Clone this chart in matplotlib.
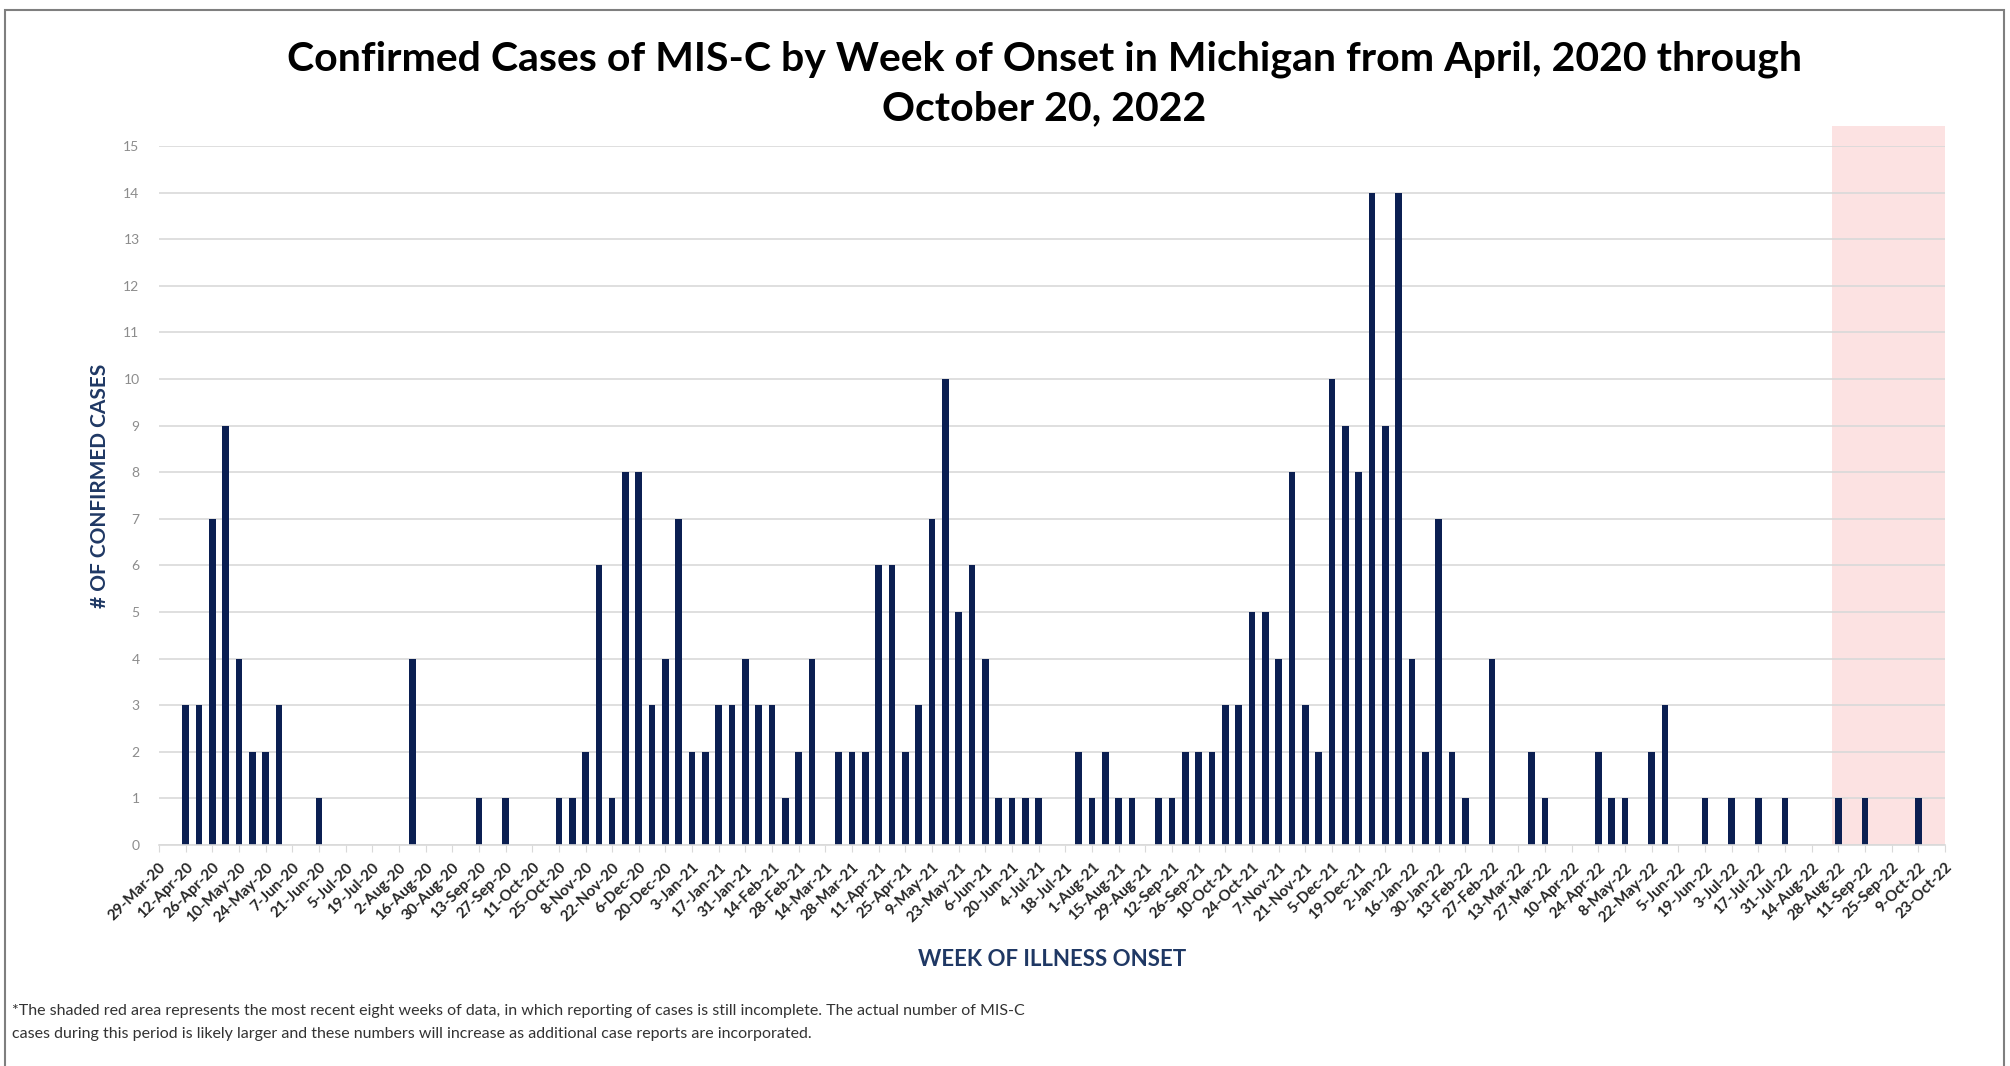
import numpy as np
import pandas as pd
import matplotlib
matplotlib.use("Agg")
import matplotlib.pyplot as plt
from matplotlib.patches import Rectangle

plt.rcParams['font.family'] = ['Lato', 'DejaVu Sans']

# weekly categories, 29-Mar-20 through 23-Oct-22
weeks = pd.date_range("2020-03-29", "2022-10-23", freq="7D")
week_labels = [f"{d.day}-{d.strftime('%b-%y')}" for d in weeks]

cases = [0, 0, 3, 3, 7, 9, 4, 2, 2, 3,
         0, 0, 1, 0, 0, 0, 0, 0, 0, 4,
         0, 0, 0, 0, 1, 0, 1, 0, 0, 0,
         1, 1, 2, 6, 1, 8, 8, 3, 4, 7,
         2, 2, 3, 3, 4, 3, 3, 1, 2, 4,
         0, 2, 2, 2, 6, 6, 2, 3, 7, 10,
         5, 6, 4, 1, 1, 1, 1, 0, 0, 2,
         1, 2, 1, 1, 0, 1, 1, 2, 2, 2,
         3, 3, 5, 5, 4, 8, 3, 2, 10, 9,
         8, 14, 9, 14, 4, 2, 7, 2, 1, 0,
         4, 0, 0, 2, 1, 0, 0, 0, 2, 1,
         1, 0, 2, 3, 0, 0, 1, 0, 1, 0,
         1, 0, 1, 0, 0, 0, 1, 0, 1, 0,
         0, 0, 1, 0, 0]

incomplete_weeks = 8  # shaded, reporting still incomplete

title = ("Confirmed Cases of MIS-C by Week of Onset in Michigan from April, 2020 through\n"
         "October 20, 2022")
note1 = ("*The shaded red area represents the most recent eight weeks of data, in which reporting "
         "of cases is still incomplete. The actual number of MIS-C")
note2 = ("cases during this period is likely larger and these numbers will increase as additional "
         "case reports are incorporated.")

navy = '#0b1f52'
label_navy = '#1f3864'
grid_c = '#d9d9d9'

W, H = 2010, 1066
fig = plt.figure(figsize=(W / 100, H / 100), dpi=100)
ax = fig.add_axes([159 / W, 1 - 845 / H, (1945 - 159) / W, (845 - 146) / H])

x = np.arange(len(cases))
ax.bar(x, cases, width=0.5, color=navy, zorder=2)

n = len(cases)
pink = Rectangle((n - 1 - incomplete_weeks - 0.5, 0), incomplete_weeks + 0.5, 15.43,
                 facecolor='#fce2e2', edgecolor='none', zorder=0.2, clip_on=False)
ax.add_patch(pink)

ax.set_xlim(0, n - 1)
ax.set_ylim(0, 15)
ax.set_yticks(range(0, 16))
ax.set_axisbelow(True)
ax.yaxis.grid(True, color=grid_c, linewidth=1.2)
ax.tick_params(axis='y', length=0, labelsize=10, labelcolor='#8c8c8c', pad=14)

ax.set_xticks(x[::2])
ax.set_xticklabels(week_labels[::2], rotation=45, ha='right', va='top',
                   rotation_mode='anchor', fontsize=11, fontweight='bold', color='#262626')
ax.tick_params(axis='x', length=5, color=grid_c, pad=6)

for s in ['top', 'right', 'left']:
    ax.spines[s].set_visible(False)
ax.spines['bottom'].set_color(grid_c)
ax.spines['bottom'].set_linewidth(1.2)

fig.text(1044 / W, 1 - 84 / H, title, ha='center', va='center', fontsize=29.5,
         fontweight='bold', color='black', linespacing=1.42)
fig.text(100 / W, 1 - 486 / H, '# OF CONFIRMED CASES', rotation=90, ha='center', va='center',
         fontsize=15, fontweight='bold', color=label_navy)
fig.text(1052 / W, 1 - 959 / H, 'WEEK OF ILLNESS ONSET', ha='center', va='center',
         fontsize=16, fontweight='bold', color=label_navy)
fig.text(12 / W, 1 - 1011 / H, note1, ha='left', va='center', fontsize=11.5, color='#333333')
fig.text(12 / W, 1 - 1034 / H, note2, ha='left', va='center', fontsize=11.5, color='#333333')

frame = Rectangle((5 / W, -0.02), (2004 - 5) / W, 1.02 - 10 / H, transform=fig.transFigure,
                  fill=False, edgecolor='#7f7f7f', linewidth=1.5)
fig.patches.append(frame)

fig.savefig('out.png', dpi=100)
